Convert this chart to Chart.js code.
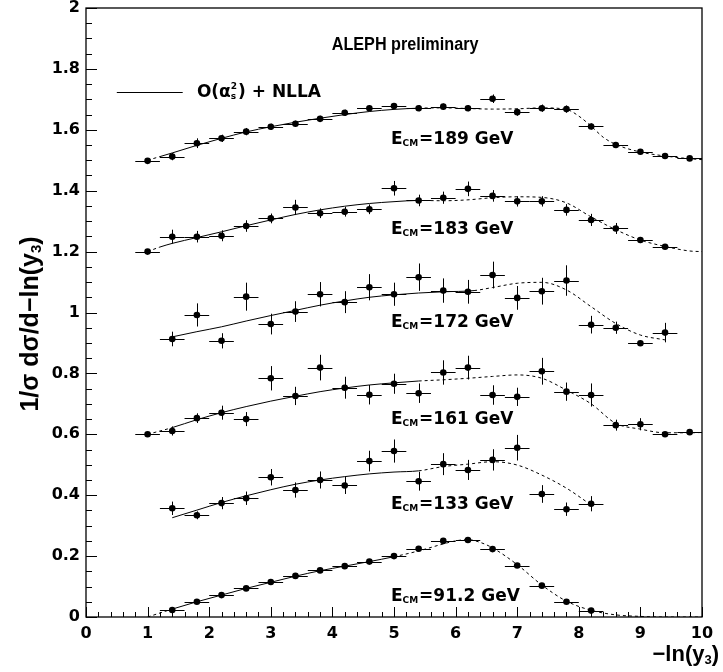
<!DOCTYPE html>
<html><head><meta charset="utf-8">
<script src="https://cdn.jsdelivr.net/npm/chart.js@4.4.1/dist/chart.umd.min.js"></script>
<style>html,body{margin:0;padding:0;background:#fff}#wrap{width:723px;height:672px}</style>
</head><body><div id="wrap"><canvas id="c" width="723" height="672"></canvas></div>
<script>
// ---------------- data ----------------
const xTickLabels = ['0','1','2','3','4','5','6','7','8','9','10'];
const yTickLabels = ['0','0.2','0.4','0.6','0.8','1','1.2','1.4','1.6','1.8','2'];
const energies = ['189','183','172','161','133','91.2'];

const x189 = [1.0,1.4,1.8,2.2,2.6,3.0,3.4,3.8,4.2,4.6,5.0,5.4,5.8,6.2,6.6,7.0,7.4,7.8,8.2,8.6,9.0,9.4,9.8];
const y189 = [1.498,1.512,1.556,1.572,1.594,1.610,1.620,1.636,1.656,1.671,1.678,1.671,1.676,1.671,1.702,1.658,1.671,1.668,1.611,1.550,1.528,1.514,1.506];
const e189 = [0.006,0.012,0.016,0.012,0.012,0.010,0.010,0.010,0.010,0.010,0.010,0.010,0.010,0.010,0.014,0.012,0.012,0.012,0.010,0.010,0.008,0.006,0.005];

const x183 = [1.0,1.4,1.8,2.2,2.6,3.0,3.4,3.8,4.2,4.6,5.0,5.4,5.8,6.2,6.6,7.0,7.4,7.8,8.2,8.6,9.0,9.4];
const y183 = [1.200,1.249,1.249,1.252,1.284,1.309,1.345,1.326,1.331,1.339,1.408,1.368,1.377,1.406,1.383,1.365,1.365,1.337,1.304,1.276,1.238,1.216];
const e183 = [0.006,0.023,0.019,0.018,0.019,0.016,0.025,0.016,0.016,0.016,0.024,0.019,0.020,0.024,0.019,0.017,0.017,0.019,0.020,0.018,0.010,0.008];

const x172 = [1.4,1.8,2.2,2.6,3.0,3.4,3.8,4.2,4.6,5.0,5.4,5.8,6.2,6.6,7.0,7.4,7.8,8.2,8.6,9.0,9.4];
const y172 = [0.913,0.992,0.907,1.052,0.962,1.003,1.060,1.034,1.083,1.060,1.116,1.072,1.068,1.123,1.048,1.070,1.105,0.960,0.950,0.899,0.934];
const e172 = [0.024,0.038,0.025,0.046,0.034,0.034,0.040,0.036,0.043,0.038,0.045,0.040,0.039,0.044,0.039,0.044,0.050,0.029,0.020,0.005,0.032];

const x161 = [1.0,1.4,1.8,2.2,2.6,3.0,3.4,3.8,4.2,4.6,5.0,5.4,5.8,6.2,6.6,7.0,7.4,7.8,8.2,8.6,9.0,9.4,9.8];
const y161 = [0.600,0.611,0.653,0.671,0.650,0.784,0.726,0.819,0.753,0.730,0.766,0.735,0.803,0.819,0.729,0.723,0.807,0.740,0.729,0.630,0.633,0.600,0.607];
const e161 = [0.005,0.015,0.016,0.023,0.023,0.040,0.030,0.042,0.036,0.032,0.033,0.032,0.040,0.039,0.032,0.030,0.044,0.030,0.038,0.018,0.020,0.006,0.006];

const x133 = [1.4,1.8,2.2,2.6,3.0,3.4,3.8,4.2,4.6,5.0,5.4,5.8,6.2,6.6,7.0,7.4,7.8,8.2];
const y133 = [0.357,0.334,0.374,0.390,0.459,0.417,0.450,0.432,0.512,0.545,0.446,0.502,0.483,0.516,0.556,0.404,0.354,0.372];
const e133 = [0.022,0.013,0.020,0.022,0.027,0.025,0.028,0.028,0.034,0.038,0.031,0.036,0.033,0.035,0.042,0.029,0.022,0.025];

const x91 = [1.4,1.8,2.2,2.6,3.0,3.4,3.8,4.2,4.6,5.0,5.4,5.8,6.2,6.6,7.0,7.4,7.8,8.2];
const y91 = [0.023,0.050,0.072,0.094,0.115,0.135,0.153,0.167,0.182,0.200,0.224,0.250,0.253,0.223,0.169,0.103,0.050,0.021];
const e91 = [0.003,0.003,0.003,0.003,0.003,0.003,0.003,0.003,0.003,0.003,0.003,0.003,0.003,0.003,0.003,0.003,0.003,0.003];

// theory curves O(as^2)+NLLA (solid inside fit range, dashed outside)
const c189x = [1.0,1.2,1.4,1.8,2.2,2.6,3.0,3.4,3.8,4.2,4.6,5.0,5.4,5.8,6.2,6.6,7.0,7.4,7.8,8.0,8.2,8.4,8.6,9.0,9.4,9.8,10.0];
const c189y = [1.500,1.512,1.524,1.549,1.572,1.593,1.610,1.625,1.638,1.650,1.660,1.667,1.671,1.672,1.670,1.668,1.669,1.672,1.667,1.645,1.612,1.575,1.552,1.527,1.514,1.505,1.502];
const c183x = [1.0,1.2,1.4,1.8,2.2,2.6,3.0,3.4,3.8,4.2,4.6,5.0,5.4,5.8,6.2,6.6,7.0,7.4,7.8,8.2,8.6,9.0,9.4,9.8,10.0];
const c183y = [1.200,1.215,1.227,1.246,1.265,1.285,1.304,1.322,1.337,1.349,1.358,1.364,1.368,1.367,1.370,1.377,1.380,1.378,1.360,1.314,1.272,1.238,1.217,1.202,1.200];
const c172x = [1.4,1.8,2.2,2.6,3.0,3.4,3.8,4.2,4.6,5.0,5.4,5.8,6.3,6.6,7.0,7.4,7.8,8.2,8.6,9.0,9.4];
const c172y = [0.920,0.937,0.953,0.972,0.990,1.007,1.024,1.038,1.050,1.058,1.064,1.068,1.072,1.082,1.096,1.099,1.074,1.019,0.964,0.926,0.910];
const c161x = [1.0,1.4,1.8,2.2,2.6,3.0,3.4,3.8,4.2,4.6,5.0,5.4,5.8,6.2,6.6,7.0,7.4,7.8,8.2,8.6,9.0,9.4,9.8,10.0];
const c161y = [0.600,0.622,0.648,0.671,0.691,0.709,0.725,0.740,0.752,0.762,0.769,0.775,0.779,0.784,0.790,0.795,0.784,0.745,0.700,0.636,0.617,0.605,0.605,0.606];
const c133x = [1.4,1.8,2.2,2.6,3.0,3.4,3.8,4.2,4.6,5.0,5.4,5.8,6.2,6.6,7.0,7.4,7.8,8.2];
const c133y = [0.326,0.351,0.376,0.398,0.418,0.436,0.450,0.461,0.470,0.476,0.480,0.494,0.502,0.510,0.499,0.466,0.423,0.368];
const c91x = [1.0,1.4,1.8,2.2,2.6,3.0,3.4,3.8,4.2,4.6,5.0,5.4,5.8,6.0,6.2,6.4,6.6,7.0,7.4,7.8,8.2,8.6,9.0,9.4,10.0];
const c91y = [0.000,0.026,0.050,0.072,0.094,0.114,0.134,0.152,0.167,0.182,0.198,0.217,0.240,0.250,0.254,0.245,0.227,0.172,0.105,0.052,0.022,0.007,0.002,0.000,0.000];
const fitLo = [1.2,1.2,1.4,1.4,1.4,1.4];
const fitHi = [5.4,5.4,6.3,5.4,5.4,5.0];
const binHalfWidth = 0.2;

// ---------------- build datasets ----------------
const pts = (xs, ys) => xs.map((x, i) => ({x, y: ys[i]}));
const measX = [x189,x183,x172,x161,x133,x91];
const measY = [y189,y183,y172,y161,y133,y91];
const measE = [e189,e183,e172,e161,e133,e91];
const curX = [c189x,c183x,c172x,c161x,c133x,c91x];
const curY = [c189y,c183y,c172y,c161y,c133y,c91y];

const datasets = [];
energies.forEach((en, k) => {
  const lo = fitLo[k], hi = fitHi[k];
  datasets.push({
    label: 'curve ' + en, data: pts(curX[k], curY[k]), showLine: true,
    borderColor: '#000', borderWidth: 1, pointRadius: 0, pointHoverRadius: 0,
    cubicInterpolationMode: 'monotone', fill: false, borderDash: [],
    segment: { borderDash: c => (c.p1.parsed.x <= lo + 1e-9 || c.p0.parsed.x >= hi - 1e-9) ? [3, 3] : undefined }
  });
  datasets.push({
    label: 'E ' + en, data: pts(measX[k], measY[k]), showLine: false,
    pointRadius: 3.3, pointBackgroundColor: '#000', pointBorderColor: '#000', pointBorderWidth: 0,
    errY: measE[k]
  });
});

// ---------------- plugins ----------------
const FONT = '"Liberation Sans", Arial, Helvetica, sans-serif';
const DFONT = '"DejaVu Sans", "Liberation Sans", sans-serif';
function runs(ctx, x, y, parts) {
  let cx = x;
  parts.forEach(p => {
    ctx.font = p.f;
    ctx.fillText(p.t, cx, y + (p.dy || 0));
    if (!p.noAdv) cx += ctx.measureText(p.t).width + (p.gap || 0);
  });
  return cx;
}
function runsWidth(ctx, parts) {
  let w = 0;
  parts.forEach(p => { ctx.font = p.f; if (!p.noAdv) w += ctx.measureText(p.t).width + (p.gap || 0); });
  return w;
}

const errorBars = {
  id: 'errorBars',
  beforeDatasetsDraw(chart) {
    const {ctx, scales: {x, y}} = chart;
    ctx.save();
    ctx.strokeStyle = '#000'; ctx.lineWidth = 1;
    chart.data.datasets.forEach(ds => {
      if (!ds.errY) return;
      ds.data.forEach((p, i) => {
        const px = x.getPixelForValue(p.x), py = y.getPixelForValue(p.y);
        const xl = x.getPixelForValue(p.x - binHalfWidth), xr = x.getPixelForValue(p.x + binHalfWidth);
        const yt = y.getPixelForValue(p.y + ds.errY[i]), yb = y.getPixelForValue(p.y - ds.errY[i]);
        ctx.beginPath();
        ctx.moveTo(xl, Math.round(py) + 0.5); ctx.lineTo(xr, Math.round(py) + 0.5);
        ctx.moveTo(Math.round(px) + 0.5, yt); ctx.lineTo(Math.round(px) + 0.5, yb);
        ctx.stroke();
      });
    });
    ctx.restore();
  }
};

const decor = {
  id: 'decor',
  afterDraw(chart) {
    const {ctx, chartArea: a, scales: {x, y}} = chart;
    ctx.save();
    // frame
    ctx.strokeStyle = '#000'; ctx.lineWidth = 1.3;
    ctx.strokeRect(a.left, a.top, a.right - a.left, a.bottom - a.top);
    // inward ticks
    ctx.lineWidth = 1;
    ctx.beginPath();
    for (let i = 0; i <= 50; i++) {
      const px = Math.round(x.getPixelForValue(i / 5)) + 0.5;
      const len = (i % 5 === 0) ? 10 : 5;
      ctx.moveTo(px, a.bottom); ctx.lineTo(px, a.bottom - len);
    }
    for (let i = 0; i <= 40; i++) {
      const py = Math.round(y.getPixelForValue(i * 0.05)) + 0.5;
      const len = (i % 4 === 0) ? 11 : 6;
      ctx.moveTo(a.left, py); ctx.lineTo(a.left + len, py);
    }
    ctx.stroke();

    ctx.fillStyle = '#000';
    ctx.textBaseline = 'middle';
    ctx.textAlign = 'left';
    // title (slightly condensed)
    ctx.save();
    ctx.font = 'bold 18px ' + FONT;
    ctx.textAlign = 'center';
    ctx.translate(x.getPixelForValue(5.18), y.getPixelForValue(1.878));
    ctx.scale(0.9, 1);
    ctx.fillText('ALEPH preliminary', 0, 0);
    ctx.restore();
    ctx.textAlign = 'left';
    // legend
    const ly = Math.round(y.getPixelForValue(1.724)) + 0.5;
    ctx.beginPath(); ctx.moveTo(x.getPixelForValue(0.5), ly); ctx.lineTo(x.getPixelForValue(1.57), ly); ctx.stroke();
    const big = 'bold 17px ' + DFONT, sm = 'bold 9px ' + DFONT;
    let cx = runs(ctx, x.getPixelForValue(1.80), ly, [{t: 'O(', f: big}, {t: 'α', f: big}]);
    ctx.font = sm; ctx.fillText('2', cx, ly - 6); ctx.fillText('s', cx, ly + 4);
    cx += ctx.measureText('2').width + 1;
    runs(ctx, cx, ly, [{t: ') + NLLA', f: big}]);
    // energy labels
    const labY = [1.567, 1.271, 0.966, 0.647, 0.368, 0.066];
    energies.forEach((en, k) => {
      runs(ctx, x.getPixelForValue(4.95), y.getPixelForValue(labY[k]), [
        {t: 'E', f: 'bold 17px ' + DFONT},
        {t: 'CM', f: 'bold 9px ' + DFONT, dy: 4, gap: 1},
        {t: '=' + en + ' GeV', f: 'bold 17px ' + DFONT}
      ]);
    });
    // axis titles
    const tBig = 'bold 22px ' + FONT, tSm = 'bold 13px ' + FONT;
    const xt = [{t: '−ln(y', f: tBig}, {t: '3', f: tSm, dy: 5}, {t: ')', f: tBig}];
    runs(ctx, 719 - runsWidth(ctx, xt), 655, xt);
    const yt = [{t: '1/σ dσ/d−ln(y', f: 'bold 25px ' + FONT}, {t: '3', f: 'bold 15px ' + FONT, dy: 6}, {t: ')', f: 'bold 25px ' + FONT}];
    ctx.translate(31, 324); ctx.rotate(-Math.PI / 2);
    runs(ctx, -runsWidth(ctx, yt) / 2, 0, yt);
    ctx.restore();
  }
};

new Chart(document.getElementById('c'), {
  type: 'scatter',
  data: { datasets },
  options: {
    responsive: false, animation: false, devicePixelRatio: 1,
    layout: { padding: { top: 8, right: 21, left: 0, bottom: 0 } },
    plugins: { legend: { display: false }, tooltip: { enabled: false } },
    scales: {
      x: {
        type: 'linear', min: 0, max: 10,
        grid: { display: false, drawTicks: false }, border: { display: false },
        ticks: { stepSize: 1, padding: 7, color: '#000', font: { family: DFONT, size: 16, weight: 'bold' },
                 callback: (v) => xTickLabels[Math.round(v)] },
        afterFit: s => { s.height = 55; s.paddingLeft = 0; s.paddingRight = 0; }
      },
      y: {
        type: 'linear', min: 0, max: 2,
        grid: { display: false, drawTicks: false }, border: { display: false },
        ticks: { stepSize: 0.2, padding: 6, color: '#000', font: { family: DFONT, size: 16, weight: 'bold' },
                 callback: (v) => yTickLabels[Math.round(v * 5)] },
        afterFit: s => { s.width = 86; s.paddingTop = 0; s.paddingBottom = 0; }
      }
    }
  },
  plugins: [errorBars, decor]
});
</script></body></html>
